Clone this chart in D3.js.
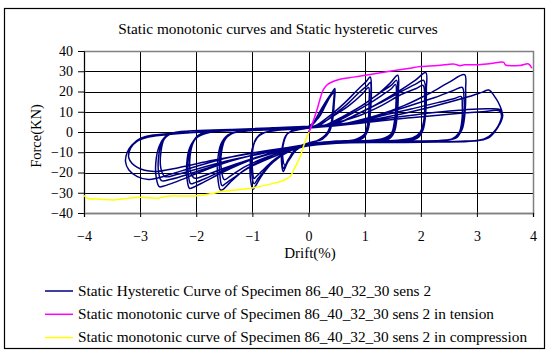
<!DOCTYPE html>
<html>
<head>
<meta charset="utf-8">
<script src="https://cdn.jsdelivr.net/npm/d3@7"></script>
<style>
body { margin: 0; background: #fff; }
text { font-family: "Liberation Serif", "Times New Roman", serif; fill: #000; }
</style>
</head>
<body>
<div id="chart"></div>
<script>
// axis ticks
let driftTicks = [-4, -3, -2, -1, 0, 1, 2, 3, 4];
let forceTicks = [-40, -30, -20, -10, 0, 10, 20, 30, 40];

// hysteretic test, one array per drift level: [drift %, force kN]
let loop05 = [[0,0],[0.08,4],[0.2,10],[0.33,16],[0.43,20],[0.47,21.5],[0.46,15],[0.43,6],[0.37,0],[0.25,-3.5],[0.05,-5],[-0.12,-6.5],[-0.28,-10],[-0.39,-16],[-0.45,-19.5],[-0.48,-15],[-0.47,-8],[-0.41,-2],[-0.3,0.5],[-0.1,1.5],[0,2],
  [0.12,5],[0.25,11],[0.37,17],[0.45,20.5],[0.44,13],[0.4,4],[0.32,-1],[0.15,-4.5],[-0.05,-6],[-0.22,-9],[-0.35,-14],[-0.42,-17],[-0.45,-18],[-0.47,-13],[-0.45,-6],[-0.38,-1],[-0.25,0.8],[-0.05,2],
  [0.18,7],[0.3,13],[0.4,18],[0.45,19.5],[0.44,12],[0.39,3],[0.3,-1.5],[0.1,-5],[-0.1,-6.5],[-0.25,-9.5],[-0.36,-13.5],[-0.42,-16.5],[-0.46,-12],[-0.44,-5],[-0.36,-0.5],[-0.2,1],[0,2]];

let loop10 = [[0.15,3.5],[0.4,8.5],[0.65,14.5],[0.88,21],[1.03,25],[1.1,27.2],[1.12,19],[1.1,9],[1.06,1],[0.97,-3],[0.7,-4.5],[0.3,-5],[0,-6],[-0.3,-9],[-0.6,-14],[-0.82,-21],[-0.94,-26.5],[-0.99,-28.3],[-1.03,-24],[-1.04,-16],[-0.99,-7],[-0.88,-1.5],[-0.7,0.3],[-0.4,1.2],[-0.1,2],[0.2,3.5],
  [0.45,8.5],[0.7,14],[0.92,20],[1.05,23],[1.1,24.5],[1.11,16],[1.09,6],[1.03,-0.5],[0.9,-3.5],[0.5,-4.5],[0.1,-5.5],[-0.2,-7.5],[-0.5,-12],[-0.75,-18],[-0.9,-23],[-0.97,-25.5],[-1.01,-21],[-1.02,-13],[-0.96,-5],[-0.85,-1],[-0.65,0.5],[-0.3,1.5],[0.1,2.5],
  [0.42,7.5],[0.72,13],[0.95,18.5],[1.07,22],[1.08,15],[1.06,5],[1.0,-1],[0.85,-3.5],[0.4,-5],[0,-6.5],[-0.3,-9],[-0.58,-13],[-0.8,-18.5],[-0.93,-22],[-0.97,-23],[-1.0,-18],[-1.0,-10],[-0.94,-3.5],[-0.8,-0.5],[-0.55,0.8],[-0.2,1.5],[0.2,3]];

let loop15 = [[0.3,3.5],[0.6,7.5],[0.95,13],[1.25,19],[1.45,24],[1.59,28],[1.6,19],[1.58,8],[1.53,0],[1.43,-3.5],[1.1,-4.5],[0.6,-5],[0.1,-6],[-0.4,-9],[-0.8,-13.5],[-1.15,-19],[-1.4,-25],[-1.52,-28.3],[-1.57,-28.6],[-1.61,-24],[-1.62,-15],[-1.56,-6],[-1.44,-1.5],[-1.2,0.3],[-0.8,1],[-0.3,1.8],[0,2.5],[0.3,3.5],
  [0.65,8],[0.98,13.5],[1.28,19.5],[1.47,23],[1.57,25.5],[1.58,17],[1.56,6],[1.5,-1],[1.38,-3.5],[0.9,-4.5],[0.3,-5.5],[-0.2,-8],[-0.65,-12.5],[-1.05,-17.5],[-1.33,-22.5],[-1.48,-25.5],[-1.54,-26.5],[-1.58,-21],[-1.58,-12],[-1.52,-4.5],[-1.38,-0.8],[-1.1,0.5],[-0.6,1.2],[0,2.5],[0.35,3.5],
  [0.7,8],[1.02,13],[1.3,18],[1.48,21.5],[1.55,23.5],[1.56,15],[1.53,5],[1.47,-1],[1.3,-3.5],[0.8,-4.5],[0.2,-5.5],[-0.3,-8.5],[-0.75,-12.5],[-1.12,-17],[-1.38,-21.5],[-1.5,-23.5],[-1.55,-19],[-1.55,-10],[-1.48,-3.5],[-1.32,-0.3],[-1.0,0.8],[-0.5,1.5],[0,2.5],[0.4,3.5]];

let loop20 = [[0.5,4],[0.8,8],[1.2,13.5],[1.6,20],[1.9,25.5],[2.09,29.3],[2.1,21],[2.09,10],[2.04,1],[1.94,-3],[1.6,-4.5],[0.9,-5],[0.2,-5.5],[-0.5,-9],[-1.0,-13.5],[-1.5,-19.5],[-1.85,-24.5],[-2.05,-27.3],[-2.12,-27.8],[-2.16,-24],[-2.17,-16],[-2.12,-8],[-2.0,-3],[-1.8,-0.5],[-1.4,0.8],[-0.8,1.5],[0,2.5],[0.5,4],
  [0.85,8.5],[1.25,14],[1.62,19.5],[1.9,23.5],[2.05,25.5],[2.09,17],[2.07,7],[2.01,0],[1.9,-3],[1.4,-4.5],[0.7,-5],[0,-6.5],[-0.5,-9.5],[-1.0,-13.5],[-1.45,-18],[-1.8,-22.5],[-2.02,-25],[-2.1,-25.5],[-2.14,-21],[-2.14,-13],[-2.08,-6],[-1.96,-1.5],[-1.75,0],[-1.2,1],[-0.4,2],[0.3,3.5],
  [0.9,8],[1.3,13],[1.65,18.5],[1.92,21.5],[2.04,23],[2.07,15],[2.05,5],[1.98,-0.5],[1.85,-3],[1.3,-4.5],[0.5,-5],[-0.1,-7],[-0.6,-10],[-1.1,-14],[-1.52,-18],[-1.85,-21.5],[-2.03,-22.8],[-2.1,-20],[-2.11,-12],[-2.05,-5],[-1.93,-1],[-1.7,0.3],[-1.0,1.2],[-0.2,2.5],[0.4,3.5]];

let loop27 = [[0.7,4.5],[1.2,8],[1.7,13],[2.15,19],[2.5,24.5],[2.78,28.3],[2.8,21],[2.79,10],[2.74,1.5],[2.62,-3],[2.2,-4.5],[1.5,-5],[0.6,-5],[0,-6],[-0.7,-9.5],[-1.4,-14.5],[-1.95,-20],[-2.35,-24.5],[-2.58,-26.7],[-2.66,-27],[-2.71,-23],[-2.72,-15],[-2.66,-7],[-2.54,-2],[-2.3,0],[-1.9,0.8],[-1.0,1.5],[0,2.5],[0.7,4.5],
  [1.2,8],[1.75,12.5],[2.25,17],[2.58,20.5],[2.74,22],[2.77,17],[2.77,9],[2.73,2],[2.65,-2.5],[2.45,-4],[1.8,-4.5],[0.9,-5],[0.2,-5.5],[-0.4,-8],[-1.0,-11.5],[-1.6,-16],[-2.1,-20.5],[-2.45,-23.3],[-2.62,-24],[-2.67,-20],[-2.67,-12],[-2.61,-5],[-2.48,-1],[-2.2,0.3],[-1.6,1],[-0.7,2],[0.2,3],[0.8,4.5],
  [1.3,8],[1.85,11.5],[2.3,14.5],[2.6,16.5],[2.72,17.5],[2.74,13],[2.73,5],[2.68,-0.5],[2.55,-3.5],[2.2,-4.5],[1.4,-5],[0.5,-5.5],[-0.2,-7.5],[-0.8,-10.5],[-1.4,-14],[-1.95,-18],[-2.35,-21],[-2.56,-22],[-2.63,-18],[-2.63,-10],[-2.57,-3.5],[-2.42,-0.5],[-2.1,0.5],[-1.3,1.2],[-0.3,2.5],[0.5,3.5]];

let loop33 = [[0.8,4.5],[1.5,8],[2.2,12.5],[2.8,17],[3.1,19.7],[3.21,20.7],[3.33,17],[3.41,13],[3.45,9.5],[3.42,5],[3.33,0.5],[3.2,-3],[2.95,-4.5],[2.3,-5],[1.4,-5.2],[0.5,-5.5],[0,-6.5],[-0.7,-9],[-1.4,-12.5],[-2.0,-17],[-2.45,-20.8],[-2.7,-22.8],[-2.85,-23.4],[-3.05,-22],[-3.2,-18.8],[-3.26,-14.7],[-3.23,-10],[-3.15,-6.5],[-2.99,-3.1],[-2.76,-1.5],[-2.22,-0.5],[-1.5,0.5],[-0.6,1.5],[0,2.5],[0.8,4.5],
  [1.5,7],[2.2,9.5],[2.8,11],[3.2,11.5],[3.42,11],[3.46,8.5],[3.41,4],[3.3,0],[3.17,-3],[2.9,-4.5],[2.2,-5],[1.2,-5],[0.3,-5.5],[-0.3,-7.5],[-1.0,-10.5],[-1.7,-14],[-2.3,-17.5],[-2.75,-19.5],[-3.05,-17.5],[-3.2,-13],[-3.17,-8],[-3.05,-4.5],[-2.85,-2.5],[-2.4,-1],[-1.6,0.5],[-0.6,1.5],[0,2],
  [0.8,4],[1.8,7],[2.6,9],[3.1,10],[3.4,10.5],[3.44,8],[3.38,3],[3.27,-1],[3.12,-3.5],[2.8,-4.5],[2.0,-4.8],[1.0,-5]];

// monotonic tests
let tension = [[0.01,0],[0.08,5],[0.15,10.9],[0.26,20.7],[0.32,23],[0.38,24.2],[0.56,26],[0.8,27.1],[1.04,28.1],[1.5,30.2],[1.81,31.5],[1.99,32.3],[2.3,32.8],[2.58,33.6],[2.63,33.3],[2.7,32.7],[2.78,33.2],[3.0,33.2],[3.25,33.8],[3.48,34.4],[3.51,33.1],[3.77,32.9],[3.92,33.6],[3.98,31.5]];
let compression = [[0.01,0],[-0.05,-4],[-0.1,-8],[-0.15,-12.2],[-0.25,-18],[-0.33,-22],[-0.45,-24],[-0.57,-25],[-0.98,-27.5],[-1.3,-28.7],[-1.58,-29.5],[-1.69,-30.3],[-1.99,-31.5],[-2.22,-31.6],[-2.47,-31.6],[-2.7,-32.7],[-2.93,-32.3],[-3.07,-32.3],[-3.3,-33],[-3.48,-33.6],[-3.7,-33.2],[-3.94,-32.7],[-4.0,-31.3]];

let legendNames = [
  "Static Hysteretic Curve of Specimen 86_40_32_30 sens 2",
  "Static monotonic curve of Specimen 86_40_32_30 sens 2 in tension",
  "Static monotonic curve of Specimen 86_40_32_30 sens 2 in compression"
];
let legendColors = ["#000080", "#ff00ff", "#ffff00"];

let margin = {top: 51, right: 16, bottom: 139, left: 84};
let width = 549 - margin.left - margin.right;
let height = 352 - margin.top - margin.bottom;

let svg = d3.select('#chart')
    .append('svg')
    .attr('width', 549)
    .attr('height', 352);

// outer chart border
svg.append('rect')
    .attr('x', 4.5).attr('y', 8.5)
    .attr('width', 540).attr('height', 340)
    .attr('fill', 'none')
    .attr('stroke', '#000')
    .attr('stroke-width', 1.2);

svg.append('text')
    .attr('x', 278)
    .attr('y', 34)
    .attr('text-anchor', 'middle')
    .style('font-size', '15.3px')
    .text('Static monotonic curves and Static hysteretic curves');

let g = svg.append('g')
    .attr('transform', 'translate(' + margin.left + ',' + margin.top + ')');

let x = d3.scaleLinear().domain([-4, 4]).range([0, width]);
let y = d3.scaleLinear().domain([-40, 40]).range([height, 0]);

// gridlines
g.append('g')
    .selectAll('line')
    .data(forceTicks)
    .enter()
    .append('line')
    .attr('x1', 0).attr('x2', width)
    .attr('y1', d => Math.round(y(d)) + 0.5)
    .attr('y2', d => Math.round(y(d)) + 0.5)
    .attr('stroke', '#000')
    .attr('stroke-width', 1);

g.append('g')
    .selectAll('line')
    .data(driftTicks)
    .enter()
    .append('line')
    .attr('y1', 0).attr('y2', height)
    .attr('x1', d => Math.round(x(d)) + 0.5)
    .attr('x2', d => Math.round(x(d)) + 0.5)
    .attr('stroke', '#000')
    .attr('stroke-width', 1);

// plot area border
g.append('rect')
    .attr('x', 0.5).attr('y', 0.5)
    .attr('width', width).attr('height', height)
    .attr('fill', 'none')
    .attr('stroke', '#808080')
    .attr('stroke-width', 1.5);

// axes
let yAxis = g.append('g')
    .call(d3.axisLeft(y).tickValues(forceTicks).tickSize(6).tickPadding(5));
let xAxis = g.append('g')
    .attr('transform', 'translate(0,' + height + ')')
    .call(d3.axisBottom(x).tickValues(driftTicks).tickSize(4).tickPadding(14));

[yAxis, xAxis].forEach(function (a) {
    a.select('.domain').attr('stroke', '#000');
    a.selectAll('line').attr('stroke', '#000');
    a.selectAll('text')
        .style('font-family', '"Liberation Serif", serif')
        .style('font-size', '14px');
});
xAxis.select('.domain').attr('stroke', '#808080').attr('stroke-width', 1.5);

svg.append('text')
    .attr('x', 310)
    .attr('y', 258)
    .attr('text-anchor', 'middle')
    .style('font-size', '15px')
    .text('Drift(%)');

svg.append('text')
    .attr('transform', 'translate(41,136) rotate(-90)')
    .attr('text-anchor', 'middle')
    .style('font-size', '14.5px')
    .text('Force(KN)');

// curves
g.append('clipPath').attr('id', 'plotclip')
    .append('rect').attr('width', width).attr('height', height);

let line = d3.line()
    .x(d => x(d[0]))
    .y(d => y(d[1]))
    .curve(d3.curveCatmullRom.alpha(0.5));

let hysteretic = [].concat(loop05, loop10, loop15, loop20, loop27, loop33);
let series = [hysteretic, tension, compression];

g.append('g')
    .attr('clip-path', 'url(#plotclip)')
    .selectAll('path')
    .data(series)
    .enter()
    .append('path')
    .attr('d', line)
    .attr('fill', 'none')
    .attr('stroke', (d, i) => legendColors[i])
    .attr('stroke-width', 1.5)
    .attr('stroke-linejoin', 'round');

// legend
let legend = svg.append('g')
    .selectAll('g')
    .data(legendNames)
    .enter()
    .append('g')
    .attr('transform', (d, i) => 'translate(45,' + (291 + i * 23.3) + ')');

legend.append('line')
    .attr('x1', 0).attr('x2', 28)
    .attr('stroke', (d, i) => legendColors[i])
    .attr('stroke-width', 1.5);

legend.append('text')
    .attr('x', 33)
    .attr('y', 4.5)
    .style('font-size', '15.3px')
    .text(d => d);
</script>
</body>
</html>
